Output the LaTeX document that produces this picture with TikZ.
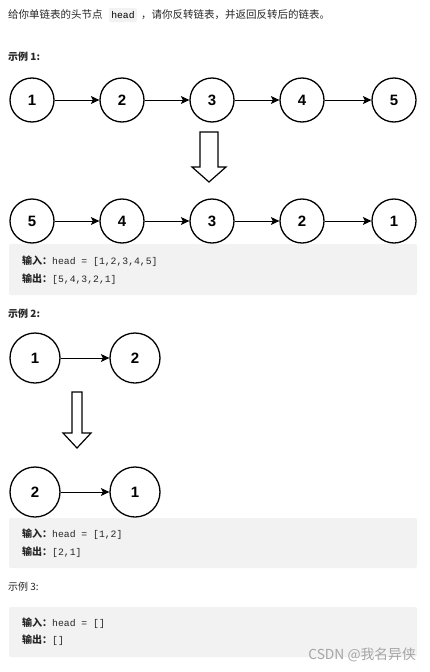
\documentclass[tikz,border=0pt]{standalone}
\usepackage{fontspec}
\setmainfont{Liberation Sans}
\newfontfamily\cjk{Noto Sans CJK SC}
\newfontfamily\codef{Liberation Mono}
\usetikzlibrary{arrows.meta}
\definecolor{boxgray}{RGB}{242,242,242}
\definecolor{txt}{RGB}{38,38,38}
\definecolor{wm}{RGB}{165,165,165}
\tikzset{
  lnode/.style={circle,draw=black,line width=1.3pt,minimum size=44pt,inner sep=0pt,font=\fontsize{15}{15}\selectfont\bfseries},
  lnodeb/.style={lnode,minimum size=50pt},
  link/.style={-{Stealth[length=8.5pt,width=8pt,inset=2pt]},line width=1pt},
  hollow/.style={draw=black,line width=1.2pt,fill=white},
  codebox/.style={fill=boxgray,rounded corners=2pt},
  label/.style={anchor=west,inner sep=0pt,text=txt},
  headtxt/.style={label,font=\cjk\fontsize{10.5}{12}\selectfont},
  codeline/.style={label,font=\fontsize{10}{12}\selectfont},
}
\newcommand{\inb}[1]{{\cjk\bfseries #1}}
\newcommand{\cd}[1]{{\codef\fontsize{9.75}{12}\selectfont #1}}
\begin{document}
\begin{tikzpicture}[x=1pt,y=-1pt]
\useasboundingbox (0,0) rectangle (430,672);
\fill[white] (0,0) rectangle (430,672);

% top sentence
\node[codebox,minimum width=28pt,minimum height=14pt,inner sep=0pt] (hd) at (123,15) {\cd{head}};
\node[headtxt] (t1) at (8,15) {给你单链表的头节点};
\node[headtxt] (t2) at (141,15) {，请你反转链表，并返回反转后的链表。};

% Example 1
\node[headtxt,font=\cjk\bfseries\fontsize{10}{12}\selectfont] (ex1) at (8,57) {示例 1:};
\foreach \n/\x in {1/32,2/122,3/212,4/302,5/394}{
  \node[lnode] (a\n) at (\x,100) {\n};
}
\foreach \a/\b in {1/2,2/3,3/4,4/5}{ \draw[link] (a\a) -- (a\b); }

\draw[hollow] (200,132) -- (218,132) -- (218,167) -- (226,167) -- (209,182) -- (192,167) -- (200,167) -- cycle;

\foreach \n/\v/\x in {1/5/32,2/4/122,3/3/212,4/2/302,5/1/394}{
  \node[lnode] (b\n) at (\x,221) {\v};
}
\foreach \a/\b in {1/2,2/3,3/4,4/5}{ \draw[link] (b\a) -- (b\b); }

\fill[codebox] (9,244) rectangle (417,295);
\node[codeline] (o1a) at (22,261) {\inb{输入：}\cd{head = [1,2,3,4,5]}};
\node[codeline] (o1b) at (22,279) {\inb{输出：}\cd{[5,4,3,2,1]}};

% Example 2
\node[headtxt,font=\cjk\bfseries\fontsize{10}{12}\selectfont] (ex2) at (8,314) {示例 2:};
\node[lnodeb] (c1) at (35,358) {1};
\node[lnodeb] (c2) at (135,358) {2};
\draw[link] (c1) -- (c2);

\draw[hollow] (72,392) -- (82,392) -- (82,433) -- (91,433) -- (77,448) -- (63,433) -- (72,433) -- cycle;

\node[lnodeb] (d1) at (35,492) {2};
\node[lnodeb] (d2) at (135,492) {1};
\draw[link] (d1) -- (d2);

\fill[codebox] (9,518) rectangle (417,568);
\node[codeline] (o2a) at (22,534) {\inb{输入：}\cd{head = [1,2]}};
\node[codeline] (o2b) at (22,552) {\inb{输出：}\cd{[2,1]}};

% Example 3
\node[headtxt,font=\cjk\fontsize{10}{12}\selectfont] (ex3) at (8,587) {示例 3:};
\fill[codebox] (9,607) rectangle (417,657);
\node[codeline] (o3a) at (22,623) {\inb{输入：}\cd{head = []}};
\node[codeline] (o3b) at (22,640) {\inb{输出：}\cd{[]}};

\node[anchor=east,inner sep=0pt,text=wm,font=\cjk\fontsize{13.8}{15}\selectfont] (wmk) at (416,655) {CSDN @我名异侠};
\end{tikzpicture}
\end{document}
